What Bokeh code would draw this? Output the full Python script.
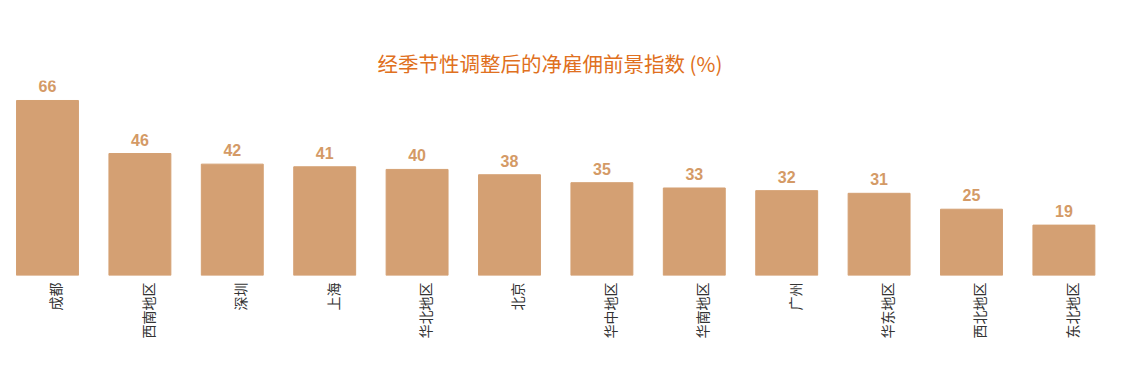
from bokeh.plotting import figure
from bokeh.models import ColumnDataSource, Range1d, LinearAxis, FixedTicker, Title
from bokeh.embed import file_html
from bokeh.resources import INLINE
from bokeh.core.properties import value
import math

categories = ["成都", "西南地区", "深圳", "上海", "华北地区", "北京", "华中地区", "华南地区", "广州", "华东地区", "西北地区", "东北地区"]
values = [66, 46, 42, 41, 40, 38, 35, 33, 32, 31, 25, 19]
title_text = "经季节性调整后的净雇佣前景指数 (%)"

bar_color = "#D4A073"
label_color = "#D49A66"

idx = list(range(len(categories)))
src = ColumnDataSource(dict(x=idx, v=values, t=[str(v) for v in values]))

x0 = -0.422
x1 = x0 + 1102 / 92.4
p = figure(frame_width=1102, frame_height=195, output_backend="svg", toolbar_location=None,
           x_range=Range1d(x0, x1), y_range=Range1d(0, 73.54),
           min_border_left=8, min_border_right=10, min_border_top=80, min_border_bottom=80)
p.vbar(x="x", top="v", width=0.67, color=bar_color, source=src)
p.text(x="x", y="v", text="t", source=src, text_align="center", text_baseline="bottom",
       y_offset=-8, text_color=label_color, text_font=value("Liberation Sans"),
       text_font_style="bold", text_font_size="16px")

p.xaxis.visible = False
p.yaxis.visible = False
p.xgrid.visible = False
p.ygrid.visible = False
p.outline_line_color = None

shift = 8 / 92.4
p.extra_x_ranges = {"lab": Range1d(x0 - shift, x1 - shift)}
ax = LinearAxis(x_range_name="lab", ticker=FixedTicker(ticks=idx),
                major_label_overrides={i: c for i, c in zip(idx, categories)})
ax.axis_line_color = None
ax.major_tick_line_color = None
ax.minor_tick_line_color = None
ax.major_label_orientation = math.pi / 2
ax.major_label_standoff = 1
ax.major_label_text_font = "Noto Sans CJK SC"
ax.major_label_text_font_size = "14px"
ax.major_label_text_color = "#333333"
p.add_layout(ax, "below")

t = Title(text=title_text, align="left", offset=369, text_font="Noto Sans CJK SC",
          text_font_size="20.5px", text_font_style="normal", text_color="#E07020", standoff=6)
p.add_layout(t, "above")

open("out.html", "w").write(file_html(p, INLINE))
